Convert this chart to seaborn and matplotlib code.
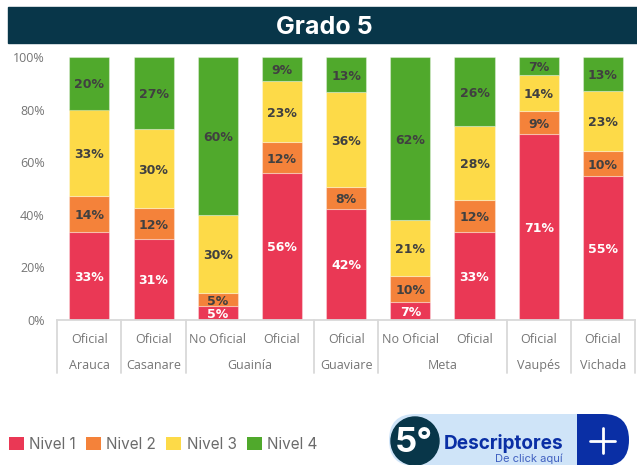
import matplotlib
matplotlib.use("Agg")
import matplotlib.pyplot as plt
from matplotlib.patches import Circle, FancyBboxPatch, Rectangle
import numpy as np
import pandas as pd
import seaborn as sns

# values
departments = ["Arauca", "Casanare", "Guainía", "Guaviare", "Meta", "Vaupés", "Vichada"]
dept_sizes = [1, 1, 2, 1, 2, 1, 1]
sectors = ["Oficial", "Oficial", "No Oficial", "Oficial", "Oficial", "No Oficial", "Oficial", "Oficial", "Oficial"]
nivel_1 = [33.2, 30.7, 5.0, 55.8, 42.2, 6.6, 33.3, 70.6, 54.6]
nivel_2 = [13.8, 11.8, 5.0, 11.8, 8.1, 10.0, 12.1, 8.8, 9.6]
nivel_3 = [33.0, 30.1, 29.8, 23.2, 36.3, 21.4, 28.4, 13.6, 22.8]
nivel_4 = [20.0, 27.4, 60.2, 9.2, 13.4, 62.0, 26.2, 7.0, 13.0]
level_names = ["Nivel 1", "Nivel 2", "Nivel 3", "Nivel 4"]
level_colors = ["#EA3855", "#F4823A", "#FDDA48", "#50A92C"]
label_colors = ["white", "#404040", "#404040", "#404040"]
y_ticks = [0, 20, 40, 60, 80, 100]

df = pd.DataFrame({"col": [str(i) for i in range(len(sectors))],
                   "Nivel 1": nivel_1, "Nivel 2": nivel_2,
                   "Nivel 3": nivel_3, "Nivel 4": nivel_4})

W, H = 637, 465
sns.set_theme(style="white")
plt.rcParams["font.family"] = ["Open Sans", "DejaVu Sans"]
fig = plt.figure(figsize=(W / 100, H / 100), dpi=100, facecolor="white")
ax = fig.add_axes([57.3 / W, 1 - 319.5 / H, (635 - 57.3) / W, 262.5 / H])

# stacked bars
bottom = np.zeros(len(df))
for name, color, txt in zip(level_names, level_colors, label_colors):
    sns.barplot(data=df, x="col", y=name, bottom=bottom, color=color, saturation=1,
                width=0.625, ax=ax, label=name, edgecolor="#ffffff55", linewidth=0.8)
    texts = ax.bar_label(ax.containers[-1], labels=[f"{v:.0f}%" for v in df[name]],
                         label_type="center", color=txt, fontsize=9, fontweight="bold",
                         family="DejaVu Sans")
    for t in texts:
        t.xyann = (0, -1.2)  # sit a bit lower, like the reference
    bottom = bottom + df[name].values

ax.set_xlim(-0.5, len(df) - 0.5)
ax.set_ylim(0, 100)
ax.set_xlabel("")
ax.set_ylabel("")
ax.set_yticks(y_ticks)
ax.set_yticklabels([f"{t}%" for t in y_ticks], color="#757575", fontsize=9)
ax.set_xticks(range(len(df)))
ax.set_xticklabels(sectors, color="#757575", fontsize=9)
ax.tick_params(axis="x", length=0, pad=9.5)
ax.tick_params(axis="y", length=0, pad=9)
sns.despine(ax=ax, left=True)
ax.spines["bottom"].set_color("#D9D9D9")
ax.spines["bottom"].set_linewidth(1.3)

# department level of the category axis
trans = ax.get_xaxis_transform()
pos = -0.5
ax.plot([pos, pos], [0, -0.204], transform=trans, clip_on=False, color="#D9D9D9", lw=1.3)
for dept, size in zip(departments, dept_sizes):
    ax.text(pos + size / 2, -0.174, dept, transform=trans, ha="center", va="center",
            color="#757575", fontsize=9)
    pos += size
    ax.plot([pos, pos], [0, -0.204], transform=trans, clip_on=False, color="#D9D9D9", lw=1.3)

# legend
handles, labels = ax.get_legend_handles_labels()
if ax.get_legend() is not None:
    ax.get_legend().remove()
leg = fig.legend(handles, labels, loc="lower left", bbox_to_anchor=(9 / W, 1 - 452 / H),
                 bbox_transform=fig.transFigure, ncol=4, frameon=False,
                 prop={"family": "Inter", "size": 11}, labelcolor="#6B6B6B",
                 handlelength=0.98, handleheight=0.98, handletextpad=0.35,
                 columnspacing=0.66, borderpad=0, borderaxespad=0)
for h in leg.legend_handles:
    h.set_edgecolor("none")

# banner and button, in pixel coordinates
over = fig.add_axes([0, 0, 1, 1], facecolor="none")
over.set_xlim(0, W)
over.set_ylim(H, 0)
over.axis("off")
over.add_patch(Rectangle((8, 7), 629, 36, color="#083649"))
over.text(324, 27.5, "Grado 5", color="white", fontsize=18, fontweight="bold",
          ha="center", va="center", family="Inter")

over.add_patch(FancyBboxPatch((389, 414), 240, 52, boxstyle="round,pad=0,rounding_size=26",
                              fc="#CFE4F8", ec="none"))
blue = FancyBboxPatch((389, 414), 240, 52, boxstyle="round,pad=0,rounding_size=26",
                      fc="#0A2FA5", ec="none")
over.add_patch(blue)
blue.set_clip_path(Rectangle((577, 400), 60, 70, transform=over.transData))
over.add_patch(Circle((415, 441), 24, color="#083649"))
over.text(414, 443, "5°", color="white", fontsize=25, fontweight="bold", ha="center", va="center",
          family="Inter")
over.text(563, 443, "Descriptores", color="#0A2FA5", fontsize=13.7, fontweight="bold",
          ha="right", va="center", family="Inter")
over.text(563, 459, "De click aquí", color="#3F5FC0", fontsize=8, ha="right", va="center",
          family="Inter")
over.plot([603, 603], [428, 453], color="white", lw=2)
over.plot([590, 615], [441, 441], color="white", lw=2)

fig.savefig("out.png", dpi=100)
